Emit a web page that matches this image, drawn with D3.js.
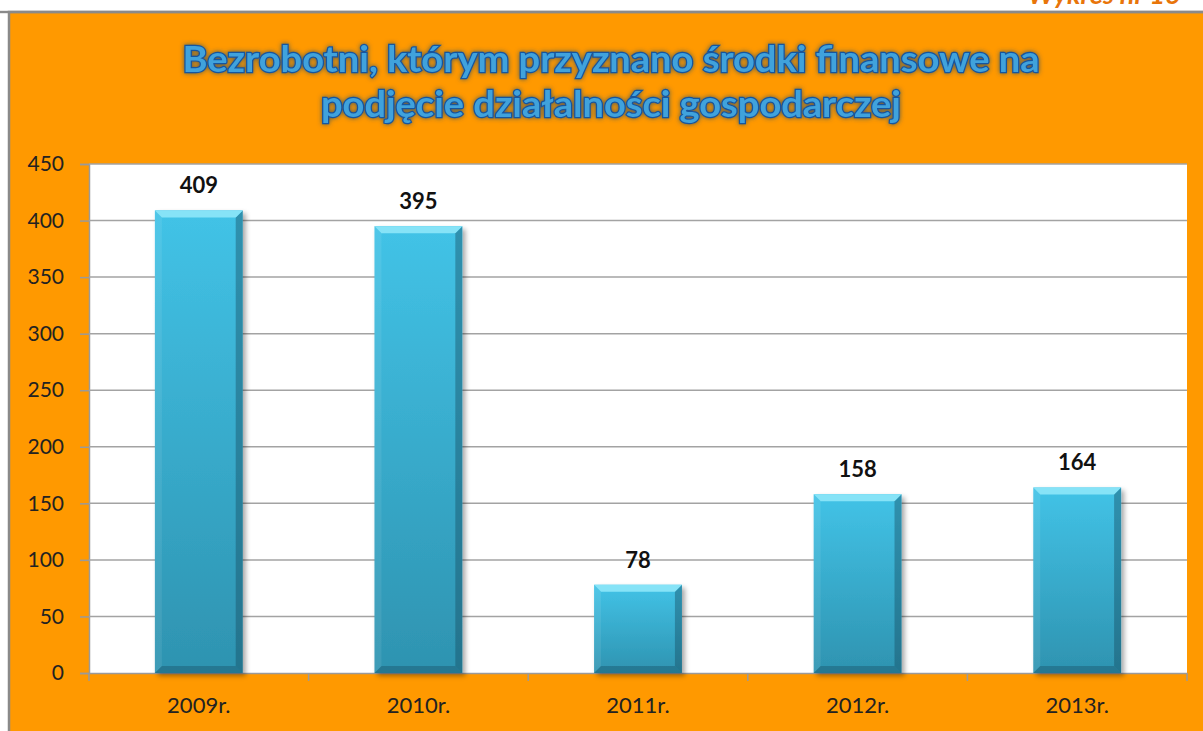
<!DOCTYPE html>
<html>
<head>
<meta charset="utf-8">
<script src="https://cdn.jsdelivr.net/npm/d3@7"></script>
<style>
  body { margin: 0; background: #fff; }
  svg { display: block; font-family: Lato, "Open Sans", sans-serif; }
</style>
</head>
<body>
<div class="chart"></div>
<script>
const categories = ["2009r.", "2010r.", "2011r.", "2012r.", "2013r."];
const values = [409, 395, 78, 158, 164];
const yTicks = [0, 50, 100, 150, 200, 250, 300, 350, 400, 450];
const titleLines = ["Bezrobotni, którym przyznano środki finansowe na", "podjęcie działalności gospodarczej"];

const W = 1203, H = 731;
const plot = { left: 89, right: 1187, top: 164, bottom: 673 };

const svg = d3.select(".chart")
    .append("svg")
    .attr("width", W)
    .attr("height", H);

const defs = svg.append("defs");

const grad = defs.append("linearGradient")
    .attr("id", "barFill").attr("x1", 0).attr("y1", 0).attr("x2", 0).attr("y2", 1);
grad.append("stop").attr("offset", "0%").attr("stop-color", "#42c3e7");
grad.append("stop").attr("offset", "100%").attr("stop-color", "#2e93b0");

const sh = defs.append("filter").attr("id", "shadow")
    .attr("x", "-10%").attr("y", "-10%").attr("width", "130%").attr("height", "130%");
sh.append("feDropShadow").attr("dx", 3).attr("dy", 3).attr("stdDeviation", 2.5)
    .attr("flood-color", "#000").attr("flood-opacity", 0.35);

const glow = defs.append("filter").attr("id", "glow")
    .attr("x", "-5%").attr("y", "-20%").attr("width", "110%").attr("height", "140%");
glow.append("feGaussianBlur").attr("in", "SourceAlpha").attr("stdDeviation", 2.5).attr("result", "b");
glow.append("feFlood").attr("flood-color", "#0d3f7a").attr("flood-opacity", 0.7);
glow.append("feComposite").attr("in2", "b").attr("operator", "in").attr("result", "g");
const gm = glow.append("feMerge");
gm.append("feMergeNode").attr("in", "g");
gm.append("feMergeNode").attr("in", "SourceGraphic");

// background frame
svg.append("rect")
    .attr("x", 9).attr("y", 12).attr("width", W).attr("height", H)
    .attr("fill", "#ff9900").attr("stroke", "#8a8a8a").attr("stroke-width", 2.5);

// caption at top right, cut off by the page edge as in the source
svg.append("text")
    .attr("x", 1028).attr("y", 4)
    .attr("fill", "#e8750a")
    .style("font-size", "27px").style("font-weight", "bold").style("font-style", "italic")
    .text("Wykres nr 16");
svg.append("rect").attr("x", 0).attr("y", 10.8).attr("width", W).attr("height", 2.4).attr("fill", "#8a8a8a");

// title
const title = svg.append("g").attr("filter", "url(#glow)");
const titleW = [857, 580];
titleLines.forEach((t, i) => {
  title.append("text")
    .attr("x", 611).attr("y", 72 + i * 45)
    .attr("text-anchor", "middle")
    .attr("textLength", titleW[i])
    .attr("lengthAdjust", "spacingAndGlyphs")
    .attr("fill", "#3fa2dc")
    .attr("stroke", "#17549e")
    .attr("stroke-width", 2.4)
    .attr("paint-order", "stroke")
    .style("font-size", "37px").style("font-weight", "bold")
    .text(t);
});

// plot area
svg.append("rect")
    .attr("x", plot.left).attr("y", plot.top)
    .attr("width", plot.right - plot.left).attr("height", plot.bottom - plot.top)
    .attr("fill", "#fff");

const x = d3.scaleBand()
    .domain(categories)
    .range([plot.left, plot.right])
    .paddingInner(0.6)
    .paddingOuter(0.3);

const y = d3.scaleLinear()
    .domain([0, 450])
    .range([plot.bottom, plot.top]);

// y axis + gridlines
const yAxis = svg.append("g")
    .attr("transform", "translate(" + plot.left + ",0)")
    .call(d3.axisLeft(y).tickValues(yTicks).tickSize(9).tickPadding(16));
yAxis.select(".domain").attr("stroke", "#9a9a9a").attr("stroke-width", 1.5);
yAxis.selectAll(".tick line").attr("stroke", "#9a9a9a").attr("stroke-width", 1.5);
yAxis.selectAll(".tick text")
    .attr("fill", "#222").style("font-size", "21px").style("font-family", "Lato, sans-serif");

svg.append("g")
    .selectAll("line")
    .data(yTicks.filter(d => d > 0))
    .enter()
    .append("line")
    .attr("x1", plot.left).attr("x2", plot.right)
    .attr("y1", d => y(d)).attr("y2", d => y(d))
    .attr("stroke", "#a3a3a3").attr("stroke-width", 1.5);

// x axis
const xAxis = svg.append("g")
    .attr("transform", "translate(0," + plot.bottom + ")")
    .call(d3.axisBottom(x).tickSize(0).tickPadding(24));
xAxis.select(".domain").attr("stroke", "#9a9a9a").attr("stroke-width", 1.5);
xAxis.selectAll(".tick text")
    .attr("fill", "#222").style("font-size", "22px").style("font-family", "Lato, sans-serif");

const step = x.step();
svg.append("g")
    .selectAll("line")
    .data(d3.range(categories.length + 1))
    .enter()
    .append("line")
    .attr("x1", i => plot.left + i * step).attr("x2", i => plot.left + i * step)
    .attr("y1", plot.bottom).attr("y2", plot.bottom + 8)
    .attr("stroke", "#9a9a9a").attr("stroke-width", 1.5);

// bars
const bars = svg.append("g")
    .selectAll("g")
    .data(values)
    .enter()
    .append("g");

bars.append("rect")
    .attr("x", (d, i) => x(categories[i]))
    .attr("y", d => y(d))
    .attr("width", x.bandwidth())
    .attr("height", d => y(0) - y(d))
    .attr("fill", "url(#barFill)")
    .attr("filter", "url(#shadow)");

// bevel edges
const bv = 7;
function bevel(d, i, side) {
  const x0 = x(categories[i]), x1 = x0 + x.bandwidth();
  const y0 = y(d), y1 = y(0);
  if (side === "top") return [[x0, y0], [x1, y0], [x1 - bv, y0 + bv], [x0 + bv, y0 + bv]];
  if (side === "left") return [[x0, y0], [x0 + bv, y0 + bv], [x0 + bv, y1 - bv], [x0, y1]];
  if (side === "right") return [[x1, y0], [x1 - bv, y0 + bv], [x1 - bv, y1 - bv], [x1, y1]];
  return [[x0, y1], [x0 + bv, y1 - bv], [x1 - bv, y1 - bv], [x1, y1]];
}
const bevelColors = { top: "#86e3f7", left: "rgba(255,255,255,0.08)", right: "rgba(20,70,90,0.4)", bottom: "rgba(20,70,90,0.35)" };
["left", "right", "bottom", "top"].forEach(side => {
  bars.append("polygon")
    .attr("points", (d, i) => bevel(d, i, side).map(p => p.join(",")).join(" "))
    .attr("fill", bevelColors[side]);
});

// value labels
bars.append("text")
    .attr("x", (d, i) => x(categories[i]) + x.bandwidth() / 2)
    .attr("y", d => y(d) - 17)
    .attr("text-anchor", "middle")
    .attr("fill", "#111")
    .style("font-size", "22px").style("font-weight", "bold")
    .text(d => d);
</script>
</body>
</html>
